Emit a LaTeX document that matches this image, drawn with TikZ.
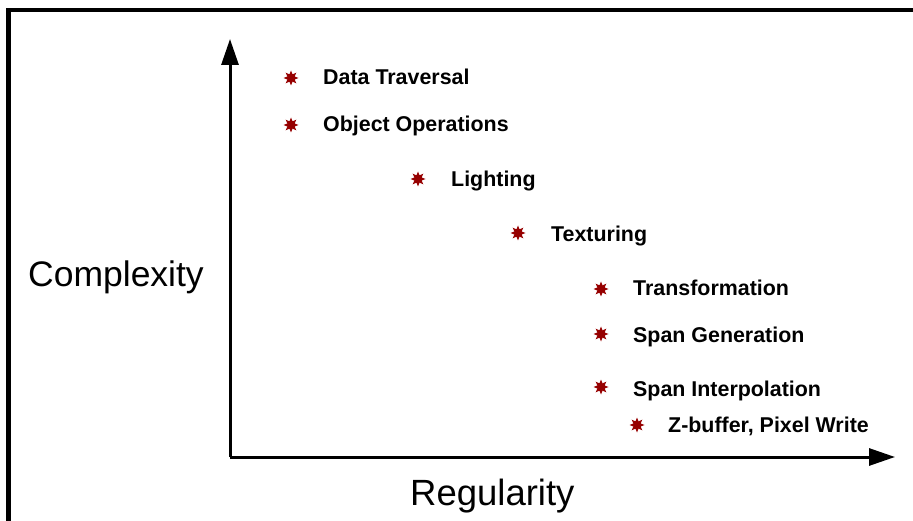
\documentclass[tikz,border=0pt]{standalone}
\usepackage{fontspec}
\setmainfont{Liberation Sans}
\usetikzlibrary{arrows.meta,shapes.geometric}
\definecolor{markred}{RGB}{150,0,0}
\begin{document}
\begin{tikzpicture}[x=1pt,y=-1pt,
  item/.style={anchor=base west,inner sep=0pt,font=\fontsize{21.4}{21.4}\selectfont\bfseries},
  axislabel/.style={inner sep=0pt,font=\fontsize{35.5}{35.5}\selectfont},
  marker/.style={star,star points=8,star point ratio=1.9,minimum size=15pt,inner sep=0pt,fill=markred,draw=none},
  axis/.style={line width=3pt,-{Triangle[length=26pt,width=17pt]}},
  frame/.style={line width=4.5pt}]
\useasboundingbox (0,0) rectangle (913,521);
% open frame: top and left edges only
\draw[frame] (8.5,521) -- (8.5,10) -- (913,10);
% axes
\coordinate (origin) at (230,457);
\coordinate (ytip) at (230,39);
\coordinate (xtip) at (895,457);
\draw[axis] (origin) -- (ytip);
\draw[axis] (origin) -- (xtip);
% axis titles
\node[axislabel,anchor=base west] (complexity) at (28,287) {Complexity};
\node[axislabel,anchor=base west,font=\fontsize{36.5}{36.5}\selectfont] (regularity) at (410,505) {Regularity};
% tasks
\node[marker] (m1) at (291,78) {};
\node[item] (t1) at (323,85) {Data Traversal};
\node[marker] (m2) at (291,125) {};
\node[item] (t2) at (323,132) {Object Operations};
\node[marker] (m3) at (418,179) {};
\node[item] (t3) at (451,187) {Lighting};
\node[marker] (m4) at (518,233) {};
\node[item] (t4) at (551,242) {Texturing};
\node[marker] (m5) at (601,289) {};
\node[item] (t5) at (633,296) {Transformation};
\node[marker] (m6) at (601,334) {};
\node[item] (t6) at (633,342) {Span Generation};
\node[marker] (m7) at (601,387) {};
\node[item] (t7) at (633,396) {Span Interpolation};
\node[marker] (m8) at (637,425) {};
\node[item] (t8) at (668,432) {Z-buffer, Pixel Write};
\end{tikzpicture}
\end{document}
